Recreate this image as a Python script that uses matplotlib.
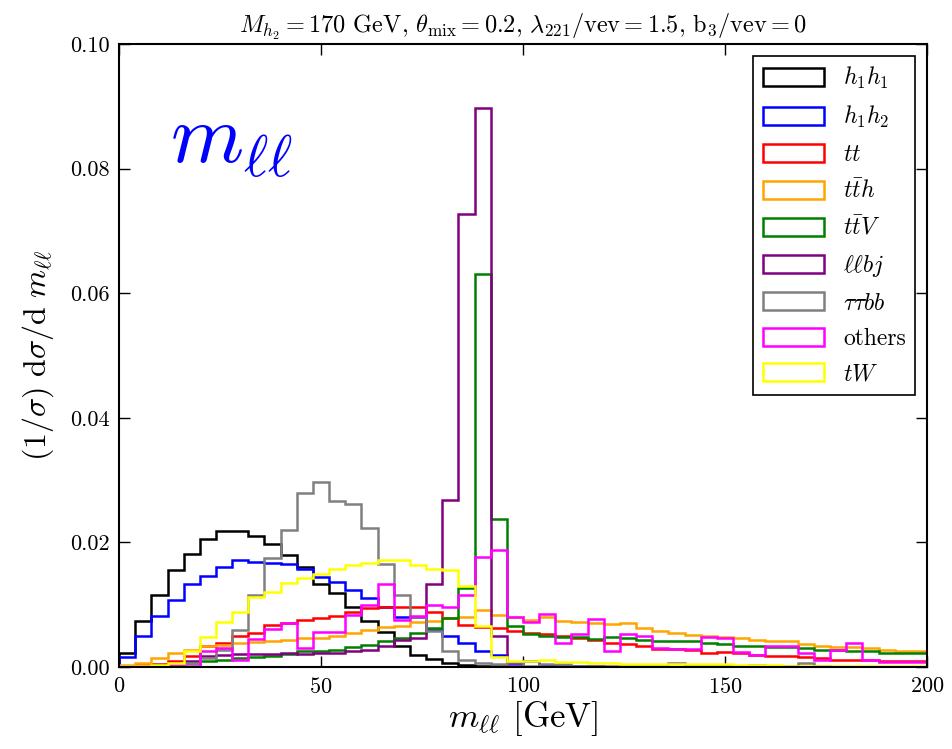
import numpy as np
import matplotlib
matplotlib.use("Agg")
import matplotlib.pyplot as plt

# m_ll distributions, 4 GeV bins from 0 to 200 GeV (normalised)
edges = np.linspace(0, 200, 51)

h1h1 = [0.0023, 0.0074, 0.0115, 0.0156, 0.0181, 0.0205, 0.0219, 0.0218, 0.0211, 0.0198,
        0.0179, 0.0160, 0.0134, 0.0118, 0.0096, 0.0074, 0.0056, 0.0034, 0.0020, 0.0013,
        0.0006, 0.0003, 0.0001, 0.0001, 0, 0, 0, 0, 0, 0,
        0, 0, 0, 0, 0, 0, 0, 0, 0, 0,
        0, 0, 0, 0, 0, 0, 0, 0, 0, 0]
h1h2 = [0.0016, 0.0050, 0.0082, 0.0107, 0.0133, 0.0146, 0.0161, 0.0172, 0.0168, 0.0167,
        0.0165, 0.0158, 0.0145, 0.0136, 0.0124, 0.0110, 0.0097, 0.0081, 0.0080, 0.0059,
        0.0049, 0.0038, 0.0026, 0.0019, 0.0006, 0.0009, 0.0003, 0.0002, 0.0001, 0.0001,
        0, 0, 0, 0, 0, 0, 0, 0, 0, 0,
        0, 0, 0, 0, 0, 0, 0, 0, 0, 0]
tt = [0.0001, 0.0003, 0.0005, 0.0009, 0.0018, 0.0033, 0.0038, 0.0049, 0.0054, 0.0068,
      0.0070, 0.0075, 0.0079, 0.0082, 0.0088, 0.0095, 0.0097, 0.0097, 0.0097, 0.0088,
      0.0078, 0.0068, 0.0064, 0.0062, 0.0058, 0.0055, 0.0053, 0.0050, 0.0046, 0.0043,
      0.0039, 0.0037, 0.0033, 0.0029, 0.0029, 0.0027, 0.0023, 0.0024, 0.0022, 0.0019,
      0.0017, 0.0017, 0.0016, 0.0014, 0.0012, 0.0012, 0.0011, 0.0010, 0.0010, 0.0010]
tth = [0.0003, 0.0007, 0.0014, 0.0022, 0.0027, 0.0033, 0.0035, 0.0038, 0.0040, 0.0042,
       0.0043, 0.0046, 0.0047, 0.0050, 0.0054, 0.0059, 0.0064, 0.0066, 0.0072, 0.0074,
       0.0078, 0.0081, 0.0091, 0.0083, 0.0081, 0.0075, 0.0080, 0.0074, 0.0073, 0.0070,
       0.0069, 0.0070, 0.0063, 0.0058, 0.0055, 0.0051, 0.0049, 0.0048, 0.0047, 0.0044,
       0.0041, 0.0041, 0.0037, 0.0034, 0.0032, 0.0032, 0.0030, 0.0027, 0.0026, 0.0026]
ttv = [0.0001, 0.0001, 0.0003, 0.0005, 0.0007, 0.0010, 0.0012, 0.0014, 0.0016, 0.0018,
       0.0021, 0.0025, 0.0025, 0.0027, 0.0032, 0.0035, 0.0041, 0.0046, 0.0055, 0.0062,
       0.0078, 0.0127, 0.0630, 0.0237, 0.0065, 0.0053, 0.0050, 0.0048, 0.0048, 0.0045,
       0.0048, 0.0047, 0.0043, 0.0042, 0.0042, 0.0042, 0.0039, 0.0037, 0.0034, 0.0034,
       0.0032, 0.0032, 0.0030, 0.0028, 0.0028, 0.0026, 0.0026, 0.0022, 0.0022, 0.0022]
llbj = [0.0002, 0.0002, 0.0002, 0.0003, 0.0010, 0.0018, 0.0020, 0.0021, 0.0021, 0.0021,
        0.0022, 0.0021, 0.0022, 0.0023, 0.0025, 0.0027, 0.0033, 0.0043, 0.0046, 0.0134,
        0.0268, 0.0727, 0.0898, 0.0049, 0.0001, 0, 0, 0, 0, 0,
        0, 0, 0, 0, 0, 0, 0, 0, 0, 0,
        0, 0, 0, 0, 0, 0, 0, 0, 0, 0]
tautaubb = [0, 0, 0, 0.0003, 0.0007, 0.0015, 0.0027, 0.0060, 0.0115, 0.0175,
            0.0220, 0.0280, 0.0297, 0.0267, 0.0262, 0.0223, 0.0166, 0.0116, 0.0080, 0.0058,
            0.0025, 0.0012, 0.0007, 0.0004, 0.0008, 0.0002, 0.0004, 0.0004, 0.0002, 0.0002,
            0.0001, 0.0001, 0.0001, 0.0001, 0.0006, 0.0001, 0.0001, 0.0001, 0.0001, 0.0003,
            0.0001, 0.0001, 0.0006, 0.0001, 0, 0, 0, 0, 0, 0]
others = [0.0001, 0.0001, 0.0001, 0.0001, 0.0002, 0.0025, 0.0030, 0.0011, 0.0045, 0.0061,
          0.0071, 0.0031, 0.0056, 0.0056, 0.0084, 0.0099, 0.0133, 0.0075, 0.0082, 0.0100,
          0.0096, 0.0116, 0.0177, 0.0188, 0.0081, 0.0073, 0.0085, 0.0038, 0.0053, 0.0077,
          0.0026, 0.0053, 0.0049, 0.0030, 0.0029, 0.0029, 0.0048, 0.0046, 0.0024, 0.0020,
          0.0033, 0.0033, 0.0023, 0.0012, 0.0027, 0.0038, 0.0011, 0.0008, 0.0008, 0.0008]
tw = [0.0001, 0.0001, 0.0003, 0.0007, 0.0025, 0.0048, 0.0072, 0.0089, 0.0112, 0.0120,
      0.0135, 0.0143, 0.0150, 0.0158, 0.0164, 0.0167, 0.0172, 0.0171, 0.0163, 0.0157,
      0.0156, 0.0130, 0.0065, 0.0016, 0.0009, 0.0010, 0.0011, 0.0008, 0.0008, 0.0007,
      0.0007, 0.0005, 0.0005, 0.0005, 0.0004, 0.0004, 0.0004, 0.0004, 0.0003, 0.0003,
      0.0003, 0.0002, 0.0002, 0.0002, 0.0002, 0.0002, 0.0002, 0.0001, 0.0001, 0.0001]

labels = [r'$h_1h_1$', r'$h_1h_2$', r'$tt$', r'$t\bar{t}h$', r'$t\bar{t}V$',
          r'$\ell\ell bj$', r'$\tau\tau bb$', 'others', r'$tW$']
colors = ['black', 'blue', 'red', 'orange', 'green', 'purple', 'gray', 'magenta', 'yellow']
series = [h1h1, h1h2, tt, tth, ttv, llbj, tautaubb, others, tw]

plt.rcParams['font.family'] = ['cmr10']
plt.rcParams['mathtext.fontset'] = 'cm'
plt.rcParams['axes.formatter.use_mathtext'] = True

fig = plt.figure(figsize=(9.53, 7.49), dpi=100)
ax = fig.add_axes([0.1249, 0.1095, 0.8478, 0.8318])

centers = 0.5 * (edges[:-1] + edges[1:])
for vals, lab, col in zip(series, labels, colors):
    ax.hist(centers, bins=edges, weights=vals, histtype='step',
            color=col, linewidth=1.8, label=lab)

ax.set_xlim(0, 200)
ax.set_ylim(0, 0.10)
ax.set_xticks([0, 50, 100, 150, 200])
ax.set_yticks(np.arange(0, 0.101, 0.02))
ax.yaxis.set_major_formatter(matplotlib.ticker.FormatStrFormatter('%.2f'))
ax.tick_params(direction='in', top=True, right=True, length=8, width=1,
               labelsize=16, pad=7)
for sp in ax.spines.values():
    sp.set_linewidth(1.5)

ax.set_xlabel(r'$m_{\ell\ell}$ [GeV]', fontsize=25, labelpad=2)
ax.set_ylabel(r'$(1/\sigma)\ \mathrm{d}\sigma/\mathrm{d}\ m_{\ell\ell}$', fontsize=23, labelpad=10)
ax.set_title(r'$M_{h_2} = 170$ GeV, $\theta_{\rm mix} = 0.2$, $\lambda_{221}/{\rm vev} = 1.5$, ${\rm b}_3/{\rm vev} = 0$',
             fontsize=17.5, pad=8)

ax.text(0.063, 0.84, r'$m_{\ell\ell}$', color='blue', fontsize=60,
        transform=ax.transAxes, ha='left', va='center')

leg = ax.legend(loc='upper right', fontsize=17, fancybox=False, framealpha=1,
                edgecolor='black', handlelength=2.6, handleheight=0.8,
                labelspacing=0.56, borderaxespad=0.5)
leg.get_frame().set_linewidth(1.2)

fig.savefig('out.png', dpi=100)
